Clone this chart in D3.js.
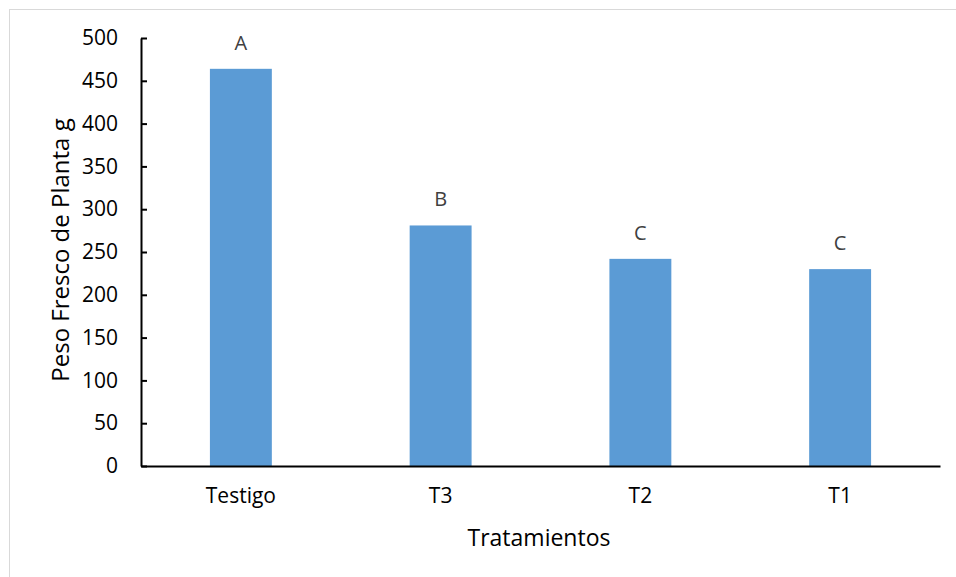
<!DOCTYPE html>
<html>
<head>
<meta charset="utf-8">
<script src="https://cdn.jsdelivr.net/npm/d3@7"></script>
<style>
  html, body { margin: 0; padding: 0; background: #fff; }
  svg { display: block; font-family: "Open Sans", "Liberation Sans", sans-serif; }
</style>
</head>
<body>
<svg id="chart" width="956" height="577"></svg>
<script>
// Peso fresco de planta por tratamiento
const categories = ["Testigo", "T3", "T2", "T1"];
const values = [464, 281, 242, 230];
const groups = ["A", "B", "C", "C"];
const yTicks = [0, 50, 100, 150, 200, 250, 300, 350, 400, 450, 500];
const yTitle = "Peso Fresco de Planta g";
const xTitle = "Tratamientos";

const svg = d3.select("#chart");

// chart frame
svg.append("rect")
  .attr("x", 9.5).attr("y", 9.5)
  .attr("width", 960).attr("height", 590)
  .attr("fill", "#fff")
  .attr("stroke", "#d9d9d9").attr("stroke-width", 1);

const plot = { left: 141, right: 940, top: 38, bottom: 466 };

const x = d3.scaleBand()
  .domain(categories)
  .range([plot.left, plot.right])
  .padding(0);

const y = d3.scaleLinear()
  .domain([0, 500])
  .range([plot.bottom, plot.top]);

const barW = x.bandwidth() * 0.31;

// bars
svg.append("g").selectAll("rect")
  .data(categories)
  .join("rect")
  .attr("x", (d) => x(d) + x.bandwidth() / 2 - barW / 2)
  .attr("y", (d, i) => y(values[i]))
  .attr("width", barW)
  .attr("height", (d, i) => y(0) - y(values[i]))
  .attr("fill", "#5B9BD5");

// significance letters
svg.append("g").selectAll("text")
  .data(categories)
  .join("text")
  .attr("x", (d) => x(d) + x.bandwidth() / 2)
  .attr("y", (d, i) => y(values[i]) - 19)
  .attr("text-anchor", "middle")
  .attr("fill", "#404040")
  .attr("font-size", 20)
  .text((d, i) => groups[i]);

// y axis
const yAxis = d3.axisLeft(y)
  .tickValues(yTicks)
  .tickSizeInner(-6)
  .tickSizeOuter(0)
  .tickPadding(23)
  .tickFormat(d3.format("d"));

const gy = svg.append("g")
  .attr("transform", `translate(${plot.left},0)`)
  .call(yAxis);
gy.select(".domain").attr("stroke", "#000").attr("stroke-width", 2);
gy.selectAll(".tick line").attr("stroke", "#000").attr("stroke-width", 2);
gy.selectAll(".tick text")
  .attr("font-size", 21)
  .attr("font-family", "'Open Sans', sans-serif")
  .attr("fill", "#000");

// x axis
const xAxis = d3.axisBottom(x)
  .tickSizeInner(0)
  .tickSizeOuter(0)
  .tickPadding(22);

const gx = svg.append("g")
  .attr("transform", `translate(0,${plot.bottom})`)
  .call(xAxis);
gx.select(".domain").attr("stroke", "#000").attr("stroke-width", 2);
gx.selectAll(".tick text")
  .attr("font-size", 21)
  .attr("font-family", "'Open Sans', sans-serif")
  .attr("fill", "#000");

// axis titles
svg.append("text")
  .attr("transform", "translate(69,250) rotate(-90)")
  .attr("text-anchor", "middle")
  .attr("font-size", 24)
  .attr("fill", "#000")
  .text(yTitle);

svg.append("text")
  .attr("x", 539)
  .attr("y", 546)
  .attr("text-anchor", "middle")
  .attr("font-size", 23)
  .attr("fill", "#000")
  .text(xTitle);
</script>
</body>
</html>
